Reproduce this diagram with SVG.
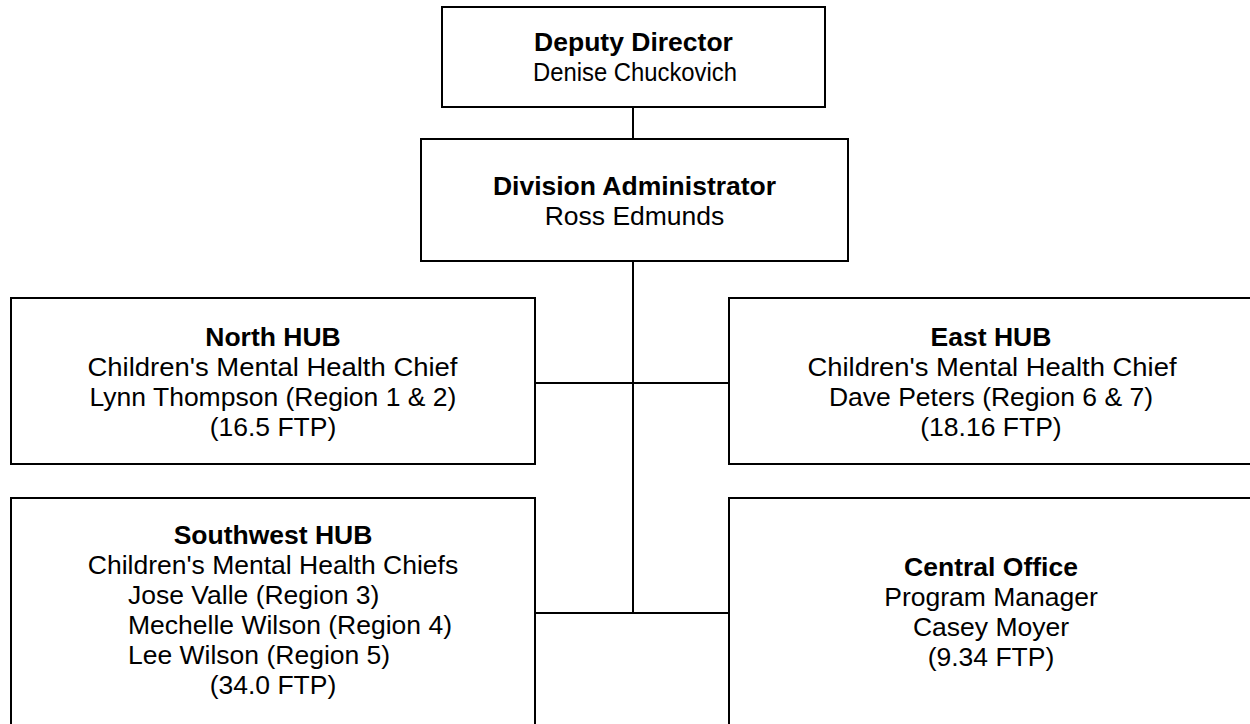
<svg xmlns="http://www.w3.org/2000/svg" width="1250" height="724" viewBox="0 0 1250 724">
  <style>
    .box { fill: #ffffff; stroke: #000000; stroke-width: 2; }
    .link { stroke: #000000; stroke-width: 2; fill: none; }
    text { font-family: "Liberation Sans", Arial, sans-serif; font-size: 26.5px; fill: #000000; }
    .c { text-anchor: middle; }
    .b { font-weight: bold; }
  </style>
  <rect width="1250" height="724" fill="#ffffff"/>

  <!-- reporting lines -->
  <g id="connectors">
    <line class="link" x1="633" y1="107" x2="633" y2="139"/>
    <line class="link" x1="633" y1="261" x2="633" y2="613"/>
    <line class="link" x1="535" y1="383" x2="729" y2="383"/>
    <line class="link" x1="535" y1="613" x2="729" y2="613"/>
  </g>

  <g id="deputy-director">
    <rect class="box" x="442" y="7" width="383" height="100"/>
    <text class="c b" x="633.5" y="51">Deputy Director</text>
    <text class="c" x="635" y="81" textLength="204" lengthAdjust="spacingAndGlyphs">Denise Chuckovich</text>
  </g>

  <g id="division-administrator">
    <rect class="box" x="421" y="139" width="427" height="122"/>
    <text class="c b" x="634.5" y="195">Division Administrator</text>
    <text class="c" x="634.5" y="225">Ross Edmunds</text>
  </g>

  <g id="north-hub">
    <rect class="box" x="11" y="298" width="524" height="166"/>
    <text class="c b" x="273" y="345.5">North HUB</text>
    <text class="c" x="272.5" y="375.5" textLength="370" lengthAdjust="spacingAndGlyphs">Children's Mental Health Chief</text>
    <text class="c" x="273" y="405.5">Lynn Thompson (Region 1 &amp; 2)</text>
    <text class="c" x="273" y="435.5">(16.5 FTP)</text>
  </g>

  <g id="east-hub">
    <rect class="box" x="729" y="298" width="524" height="166"/>
    <text class="c b" x="991" y="345.5">East HUB</text>
    <text class="c" x="992" y="375.5" textLength="369" lengthAdjust="spacingAndGlyphs">Children's Mental Health Chief</text>
    <text class="c" x="991" y="405.5">Dave Peters (Region 6 &amp; 7)</text>
    <text class="c" x="991" y="435.5">(18.16 FTP)</text>
  </g>

  <g id="southwest-hub">
    <rect class="box" x="11" y="498" width="524" height="240"/>
    <text class="c b" x="273" y="543.5">Southwest HUB</text>
    <text class="c" x="273" y="573.5">Children's Mental Health Chiefs</text>
    <text x="128" y="603.5">Jose Valle (Region 3)</text>
    <text x="128" y="633.5">Mechelle Wilson (Region 4)</text>
    <text x="128" y="663.5">Lee Wilson (Region 5)</text>
    <text class="c" x="273" y="693.5">(34.0 FTP)</text>
  </g>

  <g id="central-office">
    <rect class="box" x="729" y="498" width="524" height="240"/>
    <text class="c b" x="991" y="576">Central Office</text>
    <text class="c" x="991" y="606">Program Manager</text>
    <text class="c" x="991" y="636">Casey Moyer</text>
    <text class="c" x="991" y="666">(9.34 FTP)</text>
  </g>
</svg>
